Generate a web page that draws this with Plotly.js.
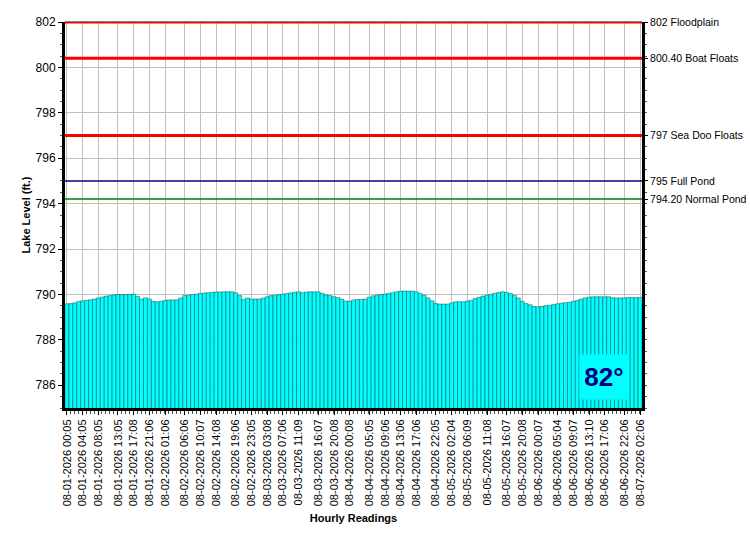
<!DOCTYPE html>
<html>
<head>
<meta charset="utf-8">
<script src="https://cdn.plot.ly/plotly-3.0.1.min.js"></script>
<style>
  html, body { margin: 0; padding: 0; background: #ffffff; }
  #chart { width: 750px; height: 550px; }
</style>
</head>
<body>
<div id="chart"></div>
<script>
// ---- Data ----
const firstReading = "08-01-2026 00:05";   // first hourly reading
const readingIntervalHours = 1;

// Lake level (ft.) for each hourly reading, left to right
const levels = [
  789.59, 789.60, 789.63, 789.69, 789.72, 789.74, 789.77, 789.80, 789.85, 789.89,
  789.93, 789.96, 789.98, 790.00, 790.00, 790.00, 790.00, 790.02, 789.92, 789.80,
  789.86, 789.80, 789.70, 789.68, 789.70, 789.74, 789.76, 789.76, 789.77, 789.85,
  789.95, 789.97, 790.00, 790.02, 790.05, 790.07, 790.08, 790.10, 790.11, 790.11,
  790.12, 790.12, 790.12, 790.08, 789.95, 789.78, 789.85, 789.80, 789.80, 789.80,
  789.84, 789.90, 789.95, 789.97, 789.99, 790.02, 790.04, 790.07, 790.10, 790.12,
  790.08, 790.11, 790.12, 790.12, 790.12, 790.05, 789.98, 789.95, 789.90, 789.87,
  789.80, 789.71, 789.70, 789.76, 789.78, 789.78, 789.80, 789.88, 789.94, 789.97,
  790.00, 790.02, 790.05, 790.08, 790.12, 790.15, 790.15, 790.15, 790.15, 790.12,
  790.05, 789.97, 789.85, 789.72, 789.60, 789.58, 789.58, 789.58, 789.63, 789.68,
  789.68, 789.68, 789.71, 789.75, 789.82, 789.88, 789.93, 789.97, 790.01, 790.05,
  790.09, 790.12, 790.09, 790.04, 789.96, 789.85, 789.70, 789.60, 789.55, 789.47,
  789.46, 789.48, 789.51, 789.53, 789.56, 789.59, 789.62, 789.64, 789.66, 789.70,
  789.74, 789.80, 789.85, 789.88, 789.90, 789.90, 789.90, 789.90, 789.90, 789.86,
  789.85, 789.85, 789.85, 789.87, 789.87, 789.87, 789.87
];

// Labelled readings on the x axis
const tickLabels = [
  "08-01-2026 00:05", "08-01-2026 04:05", "08-01-2026 08:05", "08-01-2026 13:05",
  "08-01-2026 17:08", "08-01-2026 21:06", "08-02-2026 01:06", "08-02-2026 06:06",
  "08-02-2026 10:07", "08-02-2026 14:08", "08-02-2026 19:06", "08-02-2026 23:05",
  "08-03-2026 03:08", "08-03-2026 07:06", "08-03-2026 11:09", "08-03-2026 16:07",
  "08-03-2026 20:08", "08-04-2026 00:08", "08-04-2026 05:05", "08-04-2026 09:06",
  "08-04-2026 13:06", "08-04-2026 17:06", "08-04-2026 22:05", "08-05-2026 02:04",
  "08-05-2026 06:09", "08-05-2026 11:08", "08-05-2026 16:07", "08-05-2026 20:08",
  "08-06-2026 00:07", "08-06-2026 05:04", "08-06-2026 09:07", "08-06-2026 13:10",
  "08-06-2026 17:06", "08-06-2026 22:06", "08-07-2026 02:06"
];

// Reference levels shown on the right axis
const thresholdValues = [802, 800.4, 797, 795, 794.2];
const thresholdNames  = ["802 Floodplain", "800.40 Boat Floats", "797 Sea Doo Floats", "795 Full Pond", "794.20 Normal Pond"];
const thresholdColors = ["#ff0000", "#ff0000", "#ff0000", "#000080", "#008000"];
const thresholdWidths = [3, 3, 3, 1.5, 1.5];

const waterTemp = 82;

const yMin = 785, yMax = 802;

// ---- Build ----
function parseStamp(s) {
  const [d, t] = s.split(" ");
  const [mm, dd, yyyy] = d.split("-").map(Number);
  const [hh, mi] = t.split(":").map(Number);
  return Date.UTC(yyyy, mm - 1, dd, hh, mi);
}
const HOUR = 3600000;
const t0 = parseStamp(firstReading);
const times = levels.map((_, i) => t0 + i * readingIntervalHours * HOUR);
const tickVals = tickLabels.map(parseStamp);

const FONT = "Arial, 'Liberation Sans', sans-serif";

const bars = {
  type: "bar",
  x: times,
  y: levels,
  width: HOUR,
  marker: {
    color: "#00ffff",
    line: { color: "rgba(0,0,0,0.42)", width: 0.8 }
  },
  hoverinfo: "x+y",
  showlegend: false
};

const rightAnchor = {
  type: "scatter",
  mode: "markers",
  x: [times[0]],
  y: [thresholdValues[0]],
  yaxis: "y2",
  marker: { opacity: 0 },
  hoverinfo: "skip",
  showlegend: false
};

const shapes = thresholdValues.map((v, i) => ({
  type: "line", xref: "paper", x0: 0, x1: 1, yref: "y", y0: v, y1: v,
  line: { color: thresholdColors[i], width: thresholdWidths[i] },
  layer: "above"
}));
shapes.unshift({
  type: "line", xref: "paper", x0: 0, x1: 1, yref: "paper", y0: 1, y1: 1,
  line: { color: "#000000", width: 1 }, layer: "above"
});

const layout = {
  width: 750, height: 550,
  margin: { l: 65, r: 108, t: 22, b: 142, pad: 0 },
  paper_bgcolor: "#ffffff",
  plot_bgcolor: "#ffffff",
  bargap: 0,
  font: { family: FONT, size: 11, color: "#000000" },
  xaxis: {
    type: "date",
    range: [times[0] - HOUR / 2, times[times.length - 1] + HOUR / 2],
    tickmode: "array",
    tickvals: tickVals,
    ticktext: tickLabels,
    tickangle: -90,
    tickfont: { family: FONT, size: 11, color: "#000000" },
    ticks: "outside", ticklen: 4, tickcolor: "#000000",
    minor: { dtick: HOUR, ticks: "outside", ticklen: 3, tickcolor: "#555555", showgrid: false },
    showgrid: true, gridcolor: "#c0c0c0", gridwidth: 1,
    showline: true, linecolor: "#000000", linewidth: 3,
    zeroline: false,
    fixedrange: true,
    title: { text: "<b>Hourly Readings</b>", font: { family: FONT, size: 11, color: "#000000" }, standoff: 10 }
  },
  yaxis: {
    range: [yMin, yMax],
    dtick: 2,
    tick0: 786,
    ticks: "outside", ticklen: 4, tickcolor: "#000000",
    minor: { dtick: 0.5, ticks: "outside", ticklen: 2, tickcolor: "#555555", showgrid: false },
    tickfont: { family: FONT, size: 12, color: "#000000" },
    showgrid: true, gridcolor: "#c0c0c0", gridwidth: 1,
    showline: true, linecolor: "#000000", linewidth: 3,
    zeroline: false,
    fixedrange: true,
    title: { text: "<b>Lake Level (ft.)</b>", font: { family: FONT, size: 11, color: "#000000" }, standoff: 3 }
  },
  yaxis2: {
    overlaying: "y",
    side: "right",
    anchor: "x",
    range: [yMin, yMax],
    tickmode: "array",
    tickvals: thresholdValues,
    ticktext: thresholdNames,
    ticks: "outside", ticklen: 3, tickcolor: "#000000",
    minor: { dtick: 0.5, ticks: "outside", ticklen: 2, tickcolor: "#555555" },
    tickfont: { family: FONT, size: 10.5, color: "#000000" },
    showgrid: false,
    showline: true, linecolor: "#000000", linewidth: 3,
    zeroline: false,
    fixedrange: true
  },
  shapes: shapes,
  annotations: [{
    xref: "paper", yref: "paper",
    x: 0.934, y: 0.08,
    xanchor: "center", yanchor: "middle",
    text: "<b>" + waterTemp + "°</b>",
    showarrow: false,
    font: { family: FONT, size: 26, color: "#000080" },
    bgcolor: "#00ffff",
    width: 46, height: 42
  }]
};

Plotly.newPlot("chart", [bars, rightAnchor], layout, { displayModeBar: false, staticPlot: true });
</script>
</body>
</html>
